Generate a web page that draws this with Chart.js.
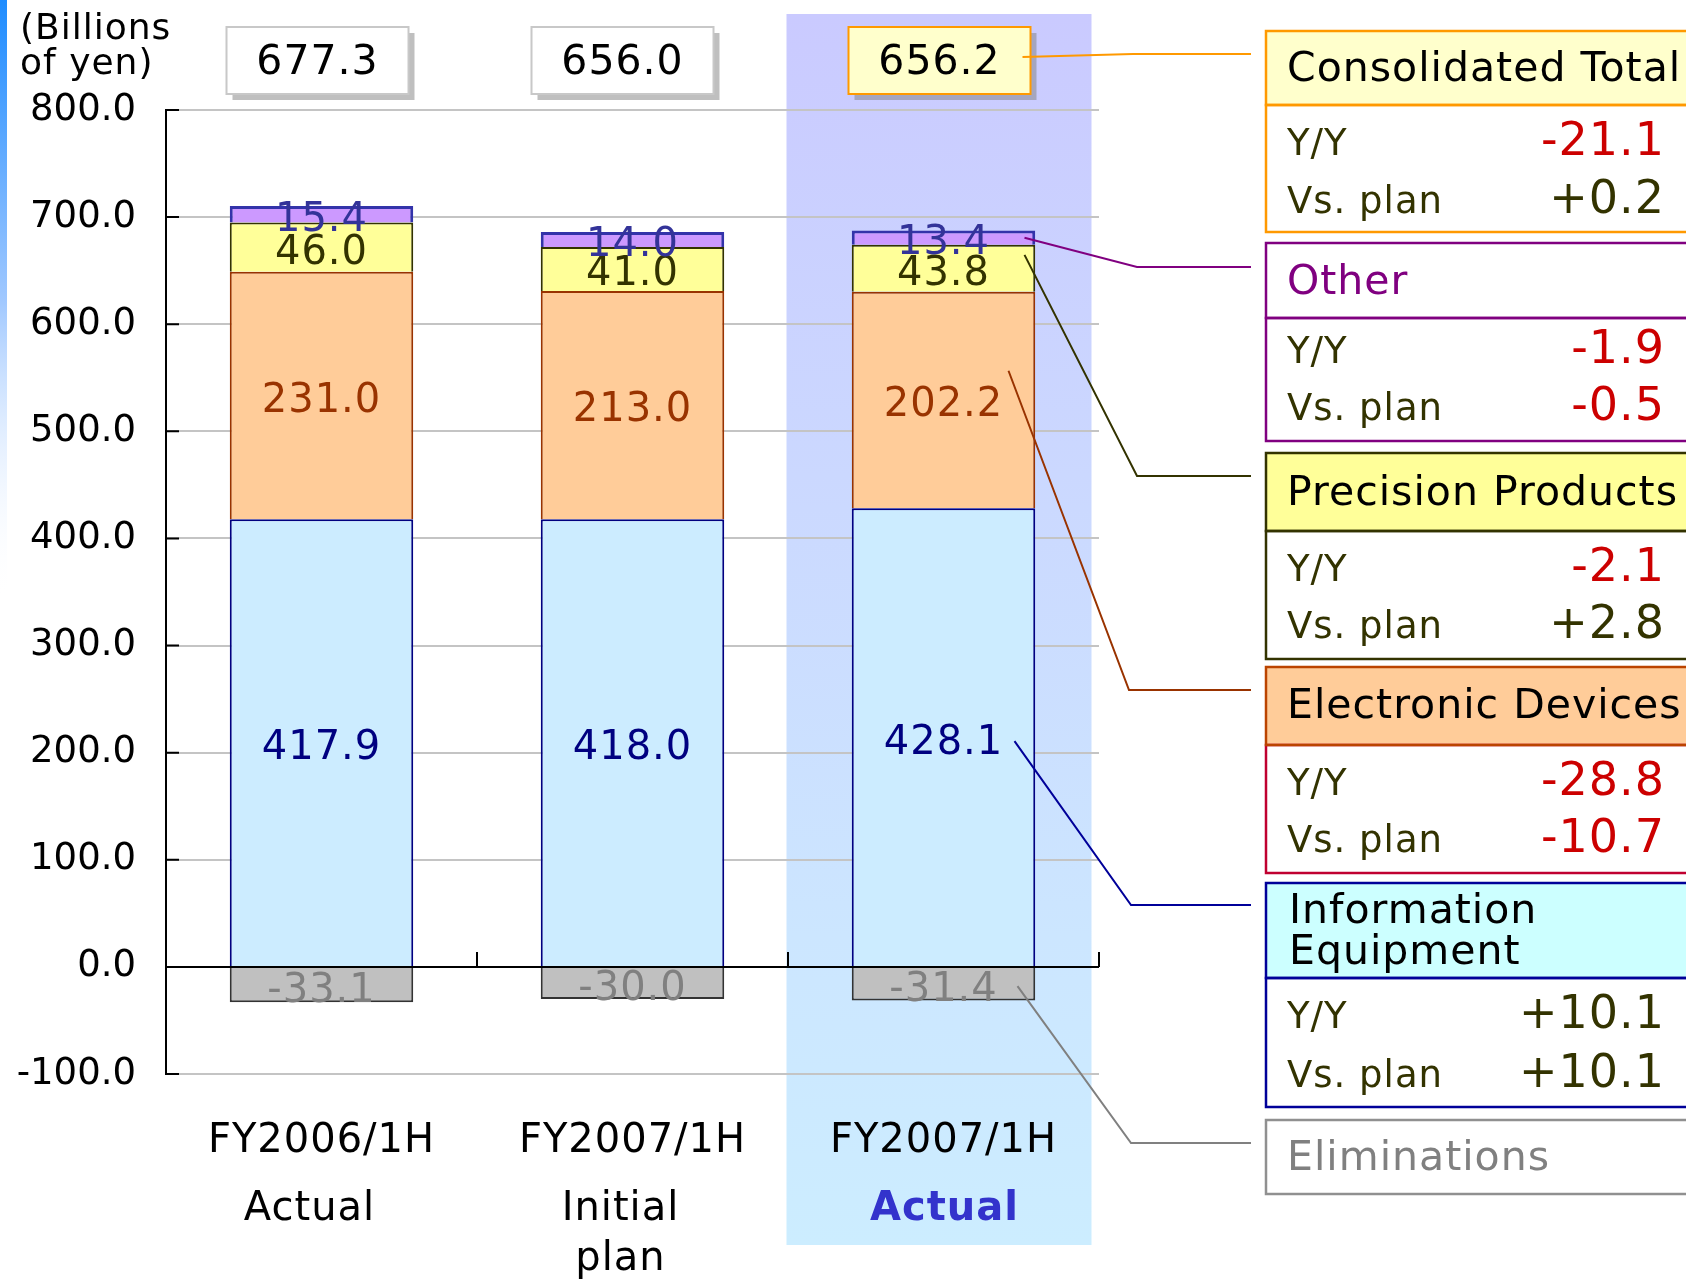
<!DOCTYPE html>
<html>
<head>
<meta charset="utf-8">
<title>Net sales by segment</title>
<script src="https://cdn.jsdelivr.net/npm/chart.js@4.4.1/dist/chart.umd.min.js"></script>
<style>
    html, body { margin: 0; padding: 0; background: #fff; }
    #sales-chart-content { position: relative; width: 1686px; height: 1279px; }
</style>
</head>
<body>
<div id="sales-chart-content"><canvas id="sales-chart" width="1686" height="1279"></canvas></div>
<script>
// ---- data (billions of yen) ----
var periods = ['FY2006/1H', 'FY2007/1H', 'FY2007/1H'];
var periodNotes = [['Actual'], ['Initial', 'plan'], ['Actual']];
var infoEquipment = [417.9, 418.0, 428.1];
var electronicDevices = [231.0, 213.0, 202.2];
var precisionProducts = [46.0, 41.0, 43.8];
var other = [15.4, 14.0, 13.4];
var eliminations = [-33.1, -30.0, -31.4];
var consolidatedTotal = [677.3, 656.0, 656.2];
var yAxisMin = -100, yAxisMax = 800, yAxisStep = 100;

// right hand panel: Total, Other, Precision, Electronic, Info
var panelNames = ['Consolidated Total', 'Other', 'Precision Products', 'Electronic Devices', 'Information Equipment', 'Eliminations'];
var yoyChange = [-21.1, -1.9, -2.1, -28.8, 10.1];
var vsPlanChange = [0.2, -0.5, 2.8, -10.7, 10.1];

var FONT = '"DejaVu Sans", Verdana, sans-serif';
function font(size, bold) { return (bold ? 'bold ' : '') + size + 'px ' + FONT; }
function signed(v) { return (v > 0 ? '+' : '') + v.toFixed(1); }

var labelColors = ['#000080', '#993300', '#333300', '#333399', '#808080'];
var totalBoxShift = [-4, -10, -4];

// panel boxes (layout only)
var panels = [
    {top: 31, split: 105, bottom: 232, head: '#FF9900', body: '#FF9900', fill: '#FFFFCC', title: '#000', titleY: [81], rows: [155, 213], bend: [1133, 54], line: '#FF9900'},
    {top: 243, split: 318, bottom: 441, head: '#800080', body: '#800080', fill: '#FFFFFF', title: '#800080', titleY: [294], rows: [363, 420], bend: [1137, 267], line: '#800080'},
    {top: 453, split: 531, bottom: 659, head: '#333300', body: '#333300', fill: '#FFFF99', title: '#000', titleY: [505], rows: [581, 638], bend: [1137, 476], line: '#333300'},
    {top: 667, split: 745, bottom: 873, head: '#BB4400', body: '#C00030', fill: '#FFCC99', title: '#000', titleY: [718], rows: [795, 852], bend: [1129, 690], line: '#993300'},
    {top: 883, split: 978, bottom: 1107, head: '#000099', body: '#000099', fill: '#CCFFFF', title: '#000', titleY: [923, 964], rows: [1028, 1087], bend: [1131, 905], line: '#000099'},
    {top: 1120, split: null, bottom: 1194, head: '#909090', body: '#909090', fill: '#FFFFFF', title: '#808080', titleY: [1170], rows: null, bend: [1131, 1143], line: '#808080'}
];

function spacing(ctx, v) {
    if ('letterSpacing' in ctx) ctx.letterSpacing = v;
}

var backdrop = {
    id: 'backdrop',
    beforeDraw: function (chart) {
        var ctx = chart.ctx, x = chart.scales.x;
        ctx.save();
        ctx.fillStyle = '#fff';
        ctx.fillRect(0, 0, chart.width, chart.height);

        // blue strip on the left edge
        var g = ctx.createLinearGradient(0, 0, 0, 600);
        g.addColorStop(0, '#1E8CFF');
        g.addColorStop(0.5, '#A0C8FF');
        g.addColorStop(1, 'rgba(255,255,255,0)');
        ctx.fillStyle = g;
        ctx.fillRect(0, 0, 7, 600);

        // highlight behind the actual column
        var cx = x.getPixelForValue(2);
        var hg = ctx.createLinearGradient(0, 14, 0, 1245);
        hg.addColorStop(0, '#CACAFF');
        hg.addColorStop(0.75, '#CCE6FF');
        hg.addColorStop(1, '#CCEDFF');
        ctx.fillStyle = hg;
        ctx.fillRect(cx - 157, 14, 305, 1231);
        ctx.restore();
    }
};

var decorations = {
    id: 'decorations',
    afterDatasetsDraw: function (chart) {
        var ctx = chart.ctx, x = chart.scales.x, y = chart.scales.y, area = chart.chartArea;
        var y0 = y.getPixelForValue(0);
        ctx.save();

        // zero line and tick marks
        ctx.strokeStyle = '#000';
        ctx.lineWidth = 2;
        ctx.beginPath();
        ctx.moveTo(area.left, y0);
        ctx.lineTo(area.right, y0);
        y.ticks.forEach(function (t) {
            var py = y.getPixelForValue(t.value);
            ctx.moveTo(area.left, py);
            ctx.lineTo(area.left + 13, py);
        });
        var cw = (area.right - area.left) / periods.length;
        for (var i = 1; i <= periods.length; i++) {
            ctx.moveTo(area.left + i * cw, y0);
            ctx.lineTo(area.left + i * cw, y0 - 15);
        }
        ctx.stroke();

        spacing(ctx, '1px');

        // segment values
        ctx.font = font(40);
        ctx.textAlign = 'center';
        ctx.textBaseline = 'middle';
        chart.data.datasets.forEach(function (ds, di) {
            var meta = chart.getDatasetMeta(di);
            ctx.fillStyle = labelColors[di];
            meta.data.forEach(function (el, j) {
                ctx.fillText(ds.data[j].toFixed(1), el.x, (el.y + el.base) / 2 + 6);
            });
        });

        // category labels
        ctx.textBaseline = 'alphabetic';
        periods.forEach(function (p, j) {
            var cx = x.getPixelForValue(j);
            ctx.font = font(40);
            ctx.fillStyle = '#000';
            ctx.fillText(p, cx, 1152);
            var last = j === periods.length - 1;
            ctx.font = font(40, last);
            ctx.fillStyle = last ? '#3333CC' : '#000';
            periodNotes[j].forEach(function (n, k) {
                ctx.fillText(n, cx + (last ? 1 : -12), k === 0 ? 1220 : 1270);
            });
        });

        // unit
        ctx.textAlign = 'left';
        ctx.font = font(36);
        ctx.fillStyle = '#000';
        ctx.fillText('(Billions', 20, 39);
        ctx.fillText('of yen)', 20, 74);

        // consolidated totals
        consolidatedTotal.forEach(function (v, j) {
            var cx = x.getPixelForValue(j) + totalBoxShift[j];
            var left = cx - 91, top = 27, w = 182, h = 67;
            var last = j === consolidatedTotal.length - 1;
            ctx.fillStyle = 'rgba(128,128,128,0.5)';
            ctx.fillRect(left + 6, top + 6, w, h);
            ctx.fillStyle = last ? '#FFFFCC' : '#FFFFFF';
            ctx.fillRect(left, top, w, h);
            ctx.strokeStyle = last ? '#FF9900' : '#C8C8C8';
            ctx.lineWidth = 2;
            ctx.strokeRect(left, top, w, h);
            ctx.font = font(41);
            ctx.fillStyle = '#000';
            ctx.textAlign = 'center';
            ctx.fillText(v.toFixed(1), cx, 74);
        });

        // leader lines from the actual column to the panels
        var starts = [];
        var bx = x.getPixelForValue(2) + totalBoxShift[2];
        starts.push([bx + 83, 57]);
        var el = function (di) { return chart.getDatasetMeta(di).data[2]; };
        starts.push([el(3).x + 81, (el(3).y + el(3).base) / 2]);
        starts.push([el(2).x + 81, el(2).y + 10]);
        starts.push([el(1).x + 65, el(1).y + 79]);
        starts.push([el(0).x + 71, (el(0).y + el(0).base) / 2 + 4]);
        starts.push([el(4).x + 74, (el(4).y + el(4).base) / 2 + 2]);
        panels.forEach(function (p, k) {
            ctx.strokeStyle = p.line;
            ctx.lineWidth = 2;
            ctx.beginPath();
            ctx.moveTo(starts[k][0], starts[k][1]);
            ctx.lineTo(p.bend[0], p.bend[1]);
            ctx.lineTo(1251, p.bend[1]);
            ctx.stroke();
        });

        // panels
        var L = 1266, R = 1700;
        panels.forEach(function (p, k) {
            ctx.lineWidth = 2.5;
            if (p.split) {
                ctx.fillStyle = p.fill;
                ctx.fillRect(L, p.top, R - L, p.split - p.top);
                ctx.fillStyle = '#fff';
                ctx.fillRect(L, p.split, R - L, p.bottom - p.split);
                ctx.strokeStyle = p.body;
                ctx.strokeRect(L, p.split, R - L, p.bottom - p.split);
                ctx.strokeStyle = p.head;
                ctx.strokeRect(L, p.top, R - L, p.split - p.top);
            } else {
                ctx.fillStyle = p.fill;
                ctx.fillRect(L, p.top, R - L, p.bottom - p.top);
                ctx.strokeStyle = p.head;
                ctx.strokeRect(L, p.top, R - L, p.bottom - p.top);
            }

            ctx.textAlign = 'left';
            ctx.font = font(41);
            ctx.fillStyle = p.title;
            var name = panelNames[k];
            if (p.titleY.length > 1) {
                var parts = name.split(' ');
                ctx.fillText(parts[0], 1289, p.titleY[0]);
                ctx.fillText(parts[1], 1289, p.titleY[1]);
            } else {
                ctx.fillText(name, 1287, p.titleY[0]);
            }

            if (p.rows) {
                ctx.font = font(37);
                ctx.fillStyle = '#333300';
                ctx.fillText('Y/Y', 1287, p.rows[0]);
                ctx.fillText('Vs. plan', 1287, p.rows[1]);
                ctx.textAlign = 'right';
                ctx.font = font(46);
                [yoyChange[k], vsPlanChange[k]].forEach(function (v, r) {
                    ctx.fillStyle = v < 0 ? '#CC0000' : '#333300';
                    ctx.fillText(signed(v), 1665, p.rows[r]);
                });
            }
        });
        spacing(ctx, '0px');
        ctx.restore();
    }
};

var config = {
    type: 'bar',
    data: {
        labels: periods,
        datasets: [
            {label: 'Information Equipment', data: infoEquipment, backgroundColor: '#CCECFF', borderColor: '#000080', borderWidth: 2},
            {label: 'Electronic Devices', data: electronicDevices, backgroundColor: '#FFCC99', borderColor: '#993300', borderWidth: 2},
            {label: 'Precision Products', data: precisionProducts, backgroundColor: '#FFFF99', borderColor: '#333300', borderWidth: 2},
            {label: 'Other', data: other, backgroundColor: '#CC99FF', borderColor: '#3333AA', borderWidth: 3},
            {label: 'Eliminations', data: eliminations, backgroundColor: '#C0C0C0', borderColor: '#333333', borderWidth: 2}
        ]
    },
    options: {
        responsive: false,
        animation: false,
        devicePixelRatio: 1,
        datasets: {bar: {barPercentage: 0.59, categoryPercentage: 1.0}},
        layout: {padding: {top: 110, right: 587, bottom: 205, left: 0}},
        plugins: {
            legend: {display: false},
            tooltip: {enabled: false}
        },
        scales: {
            x: {stacked: true, display: false},
            y: {
                stacked: true,
                min: yAxisMin,
                max: yAxisMax,
                afterFit: function (s) { s.width = 166; },
                ticks: {
                    stepSize: yAxisStep,
                    padding: 30,
                    color: '#000',
                    font: {family: FONT, size: 37},
                    callback: function (v) { return v.toFixed(1); }
                },
                grid: {
                    drawTicks: false,
                    lineWidth: 2,
                    color: function (c) { return c.tick && c.tick.value === 0 ? '#000' : '#C4C4C4'; }
                },
                border: {display: true, color: '#000', width: 2}
            }
        }
    },
    plugins: [backdrop, decorations]
};

var ctx = document.getElementById('sales-chart').getContext('2d');
window.salesChart = new Chart(ctx, config);
</script>
</body>
</html>
